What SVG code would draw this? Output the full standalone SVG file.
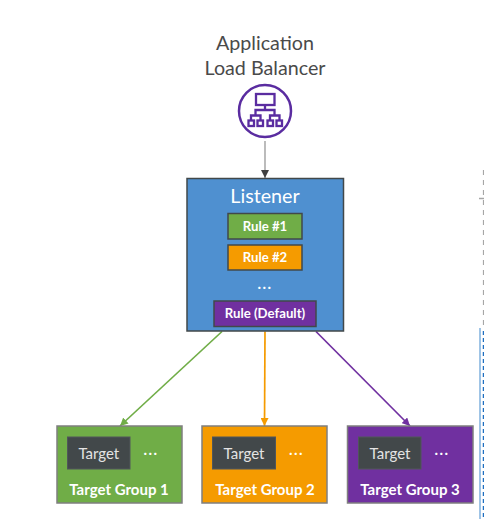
<svg xmlns="http://www.w3.org/2000/svg" width="484" height="519" viewBox="0 0 484 519">
<style>
text{font-family:Lato,"Liberation Sans",sans-serif;text-anchor:middle}
.t{font-size:19.700px;fill:#4a4a4a}
.w{fill:#fff}
.b{font-weight:700;font-size:15px;fill:#fff}
.r{font-weight:700;font-size:13.200px;fill:#fff}
.d{font-weight:700;font-size:15px;fill:#fff;letter-spacing:1.500px}
.tt{font-size:15px;fill:#e4e4e4}
.box{stroke:#42484a;stroke-width:1.500}
.grp{stroke:#7f7f7f;stroke-width:1.500}
.tg{fill:#42484a;stroke:#50565a;stroke-width:1}
.ic{fill:none;stroke:#5a2ca0;stroke-width:2.300}
.c{fill:none;stroke-width:1.700}
</style>
<defs>
<marker id="ag" markerUnits="userSpaceOnUse" markerWidth="9" markerHeight="8" refX="8" refY="4" orient="auto"><path d="M0 0L8 4L0 8z" fill="#70ad47"/></marker>
<marker id="ao" markerUnits="userSpaceOnUse" markerWidth="9" markerHeight="8" refX="8" refY="4" orient="auto"><path d="M0 0L8 4L0 8z" fill="#f59b00"/></marker>
<marker id="ap" markerUnits="userSpaceOnUse" markerWidth="9" markerHeight="8" refX="8" refY="4" orient="auto"><path d="M0 0L8 4L0 8z" fill="#7030a0"/></marker>
<marker id="ak" markerUnits="userSpaceOnUse" markerWidth="9" markerHeight="8" refX="8" refY="4" orient="auto"><path d="M0 0L8 4L0 8z" fill="#404040"/></marker>
</defs>
<g id="page-edge">
<line x1="483.500" y1="170" x2="483.500" y2="328" stroke="#a6a6a6" stroke-width="1.200" stroke-dasharray="5 5"/>
<line x1="479" y1="198.500" x2="484" y2="198.500" stroke="#a6a6a6" stroke-width="1.500"/>
<line x1="480" y1="328" x2="480" y2="519" stroke="#7fb0de" stroke-width="1.500"/>
<line x1="483.500" y1="331" x2="483.500" y2="519" stroke="#1f6fc0" stroke-width="1.500" stroke-dasharray="4 3"/>
</g>
<g id="connectors">
<line class="c" x1="265" y1="141" x2="265" y2="178" stroke="#b0b0b0" marker-end="url(#ak)"/>
<line class="c" x1="222" y1="331.500" x2="120" y2="426" stroke="#70ad47" marker-end="url(#ag)"/>
<line class="c" x1="265" y1="331.500" x2="264.500" y2="426" stroke="#f59b00" marker-end="url(#ao)"/>
<line class="c" x1="316" y1="331.500" x2="410" y2="426" stroke="#7030a0" marker-end="url(#ap)"/>
</g>
<g id="alb">
<text class="t" x="265" y="50">Application</text>
<text class="t" x="265" y="75">Load Balancer</text>
<circle cx="265" cy="111" r="26" fill="#fff" stroke="#5a2ca0" stroke-width="2.500"/>
<rect class="ic" x="256" y="94" width="18.500" height="11"/>
<path class="ic" d="M265 105v5M255.500 115v-5h19v5M251 120v-4.500h9.500v4.500M270 120v-4.500h9.500v4.500"/>
<rect class="ic" x="248.500" y="120.500" width="5.500" height="5.500"/>
<rect class="ic" x="257.500" y="120.500" width="5.500" height="5.500"/>
<rect class="ic" x="267.500" y="120.500" width="5.500" height="5.500"/>
<rect class="ic" x="276.500" y="120.500" width="5.500" height="5.500"/>
</g>
<g id="listener">
<rect class="box" x="187" y="178.500" width="156.500" height="152.500" fill="#4f90d0"/>
<text class="w" x="265" y="203" font-size="19.700">Listener</text>
</g>
<g id="rule-1"><rect class="box" x="228" y="213.500" width="74" height="25.500" fill="#70ad47"/><text class="r" x="265" y="231">Rule #1</text></g>
<g id="rule-2"><rect class="box" x="228" y="245" width="74" height="25" fill="#f59b00"/><text class="r" x="265" y="262">Rule #2</text></g>
<text class="d" x="265" y="289">...</text>
<g id="rule-default"><rect class="box" x="214" y="301" width="102" height="25.500" fill="#7030a0"/><text class="r" x="265" y="318">Rule (Default)</text></g>
<g id="tg1"><rect class="grp" x="57" y="426" width="125" height="77" fill="#70ad47"/><rect class="tg" x="67.500" y="437" width="62.500" height="32"/><text class="tt" x="98.800" y="459">Target</text><text class="d" x="151" y="455">...</text><text class="b" x="119" y="495">Target Group 1</text></g>
<g id="tg2"><rect class="grp" x="202" y="426" width="125" height="77" fill="#f59b00"/><rect class="tg" x="212.500" y="437" width="63" height="32"/><text class="tt" x="244" y="459">Target</text><text class="d" x="296.500" y="455">...</text><text class="b" x="265" y="495">Target Group 2</text></g>
<g id="tg3"><rect class="grp" x="347.500" y="426" width="125.500" height="77" fill="#7030a0"/><rect class="tg" x="358.500" y="437" width="62.500" height="32"/><text class="tt" x="390" y="459">Target</text><text class="d" x="442" y="455">...</text><text class="b" x="410" y="495">Target Group 3</text></g>
</svg>
